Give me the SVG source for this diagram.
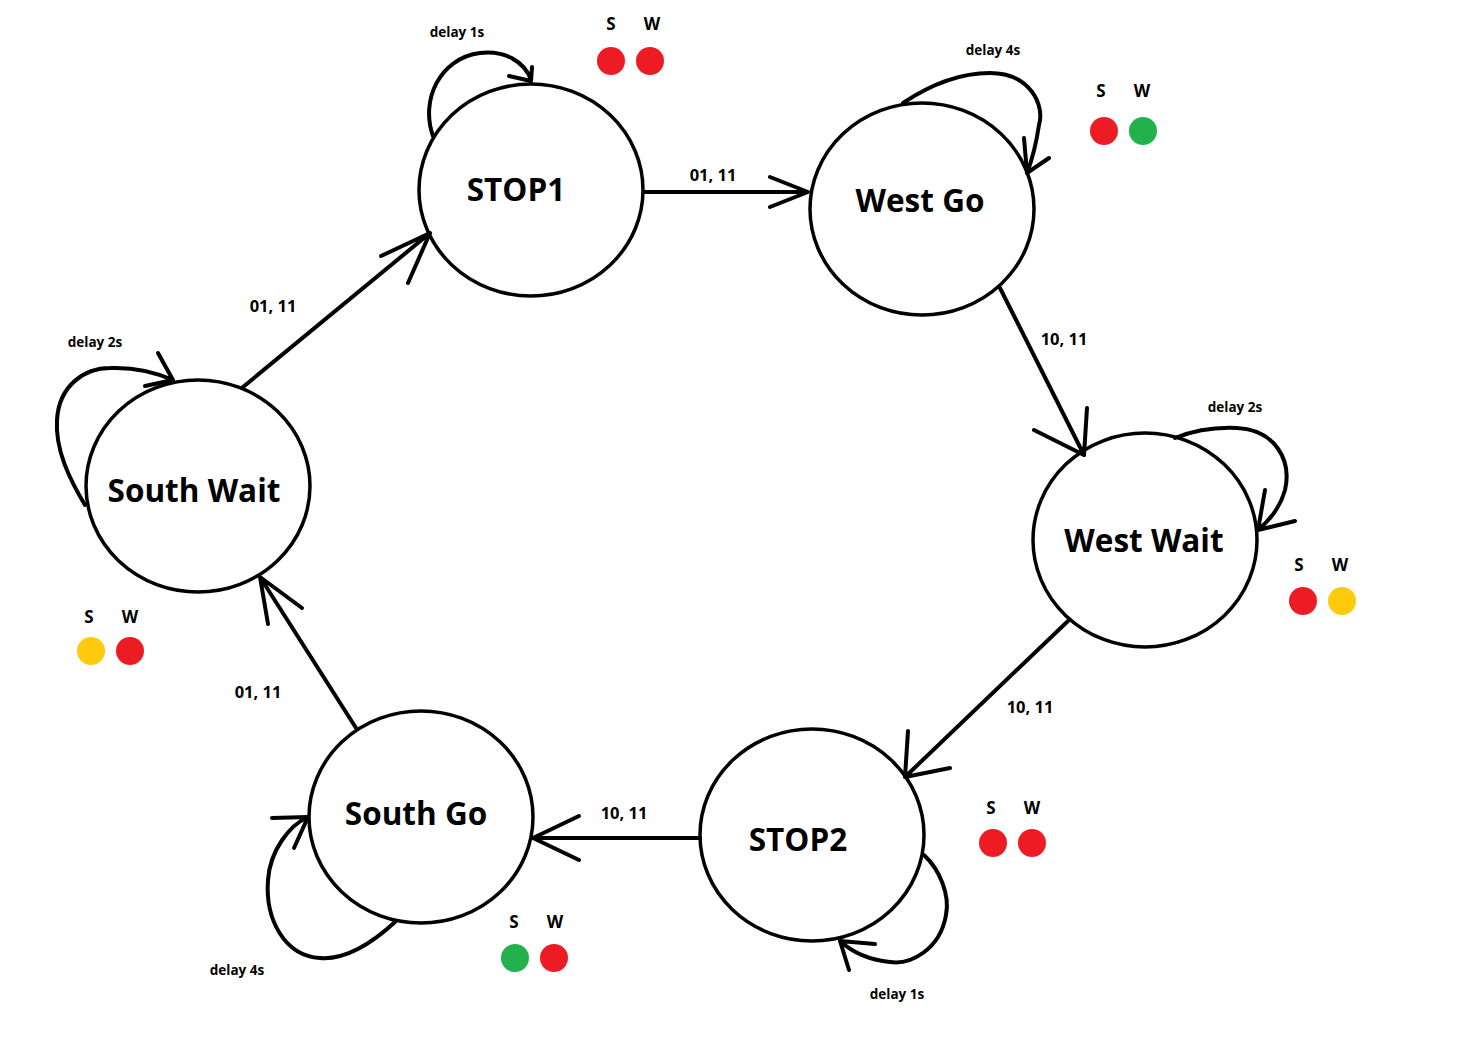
<svg xmlns="http://www.w3.org/2000/svg" width="1464" height="1059" viewBox="0 0 1464 1059">
<style>
.st{fill:none;stroke:#000;stroke-width:3.5;}
.ln{fill:none;stroke:#000;stroke-width:4;stroke-linecap:round;stroke-linejoin:round;}
.nl{font-family:"Open Sans","Noto Sans","DejaVu Sans",sans-serif;font-weight:bold;font-size:31.5px;fill:#000;text-anchor:middle;}
.el{font-family:"Open Sans","Noto Sans","DejaVu Sans",sans-serif;font-weight:bold;font-size:16.5px;fill:#000;text-anchor:middle;}
.dl{font-family:"Open Sans","Noto Sans","DejaVu Sans",sans-serif;font-weight:bold;font-size:13.5px;fill:#000;text-anchor:middle;}
.sw{font-family:"Open Sans","Noto Sans","DejaVu Sans",sans-serif;font-weight:bold;font-size:17px;fill:#000;text-anchor:middle;}
.r{fill:#ED1C24;}.g{fill:#22B14C;}.y{fill:#FFC90E;}
</style>
<rect width="1464" height="1059" fill="#fff"/>
<g id="connectors">
<path class="ln" d="M645,192 L808,192 M770,177 L808,192 L770,207"/>
<text class="el" x="713" y="181">01, 11</text>
<path class="ln" d="M1000,288 L1084,455 M1087,408 L1084,455 L1034,430"/>
<text class="el" x="1064" y="345">10, 11</text>
<path class="ln" d="M1068,621 L905,777 M908,731 L905,777 L950,768"/>
<text class="el" x="1030" y="713">10, 11</text>
<path class="ln" d="M700,838 L533,838 M579,816 L533,838 L579,860"/>
<text class="el" x="624" y="819">10, 11</text>
<path class="ln" d="M356,728 L260,577 M268,624 L260,577 L302,608"/>
<text class="el" x="258" y="698">01, 11</text>
<path class="ln" d="M243,387 L430,233 M381,256 L430,233 L408,283"/>
<text class="el" x="273" y="312">01, 11</text>
<path class="ln" d="M433,136 C420,100 440,58 480,53 C505,50 525,62 531,80 M509,76 L531,81 L532,67"/>
<text class="dl" x="457" y="37">delay 1s</text>
<path class="ln" d="M903,103 C930,85 960,73 990,73 C1030,73 1045,105 1039,125 C1036,145 1032,160 1027,173 M1024,138 L1027,173 L1049,158"/>
<text class="dl" x="993" y="55">delay 4s</text>
<path class="ln" d="M1175,438 C1195,430 1215,427 1237,428 C1275,430 1292,460 1285,490 C1280,508 1270,520 1258,530 M1265,490 L1258,530 L1295,521"/>
<text class="dl" x="1235" y="412">delay 2s</text>
<path class="ln" d="M85,505 C70,480 55,450 57,420 C59,385 85,368 110,368 C135,367 155,372 173,380 M158,353 L173,380 L145,386"/>
<text class="dl" x="95" y="347">delay 2s</text>
<path class="ln" d="M395,922 C370,945 345,960 320,958 C285,956 265,920 268,880 C270,850 290,825 308,817 M272,818 L308,817 L294,848"/>
<text class="dl" x="237" y="975">delay 4s</text>
<path class="ln" d="M924,855 C940,870 950,895 946,915 C940,950 910,965 890,962 C870,960 852,952 840,941 M875,944 L840,941 L849,970"/>
<text class="dl" x="897" y="999">delay 1s</text>
</g>
<g id="STOP1">
<ellipse class="st" cx="531" cy="190" rx="112" ry="106"/>
<text class="nl" x="516" y="201">STOP1</text>
<text class="sw" x="611" y="30">S</text><text class="sw" x="652" y="30">W</text>
<circle class="r" cx="611" cy="61" r="14"/><circle class="r" cx="650" cy="61" r="14"/>
</g>
<g id="WestGo">
<ellipse class="st" cx="922" cy="209" rx="112" ry="106"/>
<text class="nl" x="920" y="212">West Go</text>
<text class="sw" x="1101" y="97">S</text><text class="sw" x="1142" y="97">W</text>
<circle class="r" cx="1104" cy="131" r="14"/><circle class="g" cx="1143" cy="131" r="14"/>
</g>
<g id="WestWait">
<ellipse class="st" cx="1145" cy="540" rx="112" ry="107"/>
<text class="nl" x="1144" y="552">West Wait</text>
<text class="sw" x="1299" y="571">S</text><text class="sw" x="1340" y="571">W</text>
<circle class="r" cx="1303" cy="601" r="14"/><circle class="y" cx="1342" cy="601" r="14"/>
</g>
<g id="STOP2">
<ellipse class="st" cx="812" cy="835" rx="112" ry="106"/>
<text class="nl" x="798" y="851">STOP2</text>
<text class="sw" x="991" y="814">S</text><text class="sw" x="1032" y="814">W</text>
<circle class="r" cx="993" cy="843" r="14"/><circle class="r" cx="1032" cy="843" r="14"/>
</g>
<g id="SouthGo">
<ellipse class="st" cx="421" cy="817" rx="112" ry="106"/>
<text class="nl" x="416" y="825">South Go</text>
<text class="sw" x="514" y="928">S</text><text class="sw" x="555" y="928">W</text>
<circle class="g" cx="515" cy="958" r="14"/><circle class="r" cx="554" cy="958" r="14"/>
</g>
<g id="SouthWait">
<ellipse class="st" cx="198" cy="486" rx="112" ry="106"/>
<text class="nl" x="194" y="502">South Wait</text>
<text class="sw" x="89" y="623">S</text><text class="sw" x="130" y="623">W</text>
<circle class="y" cx="91" cy="651" r="14"/><circle class="r" cx="130" cy="651" r="14"/>
</g>
</svg>
